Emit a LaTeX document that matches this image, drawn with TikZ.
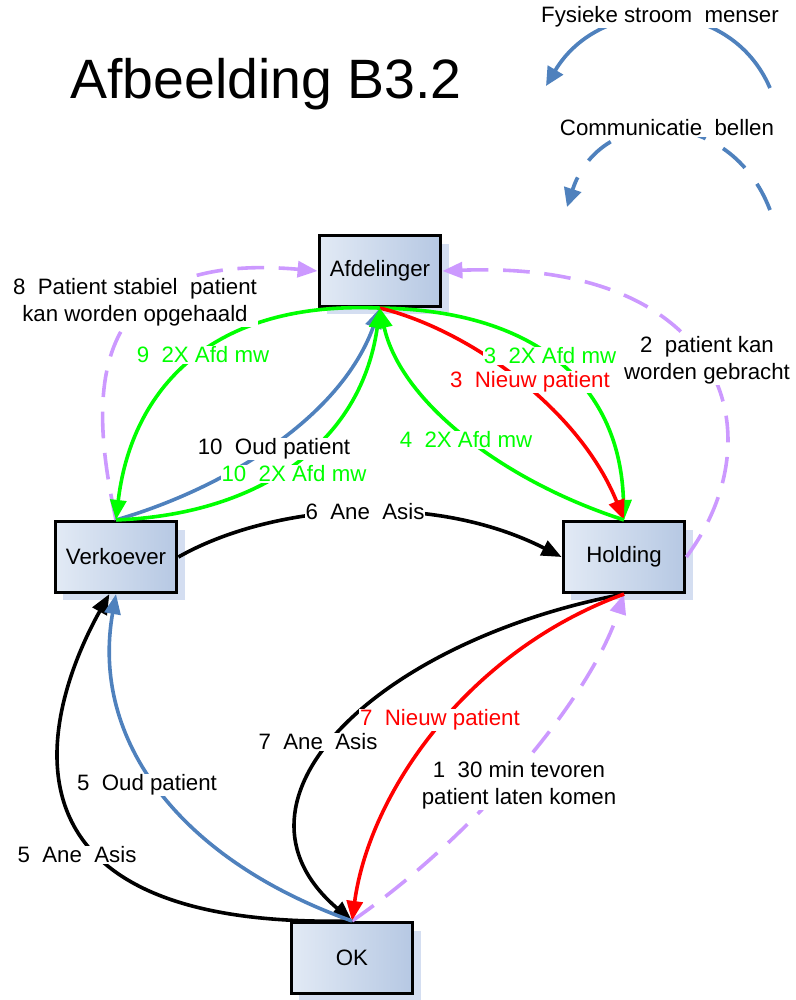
\documentclass[tikz,border=0pt]{standalone}
\usepackage{fontspec}
\setmainfont{Liberation Sans}
\usepackage{tikz}
\usepackage{xcolor}
\usetikzlibrary{shapes, arrows.meta, shadows}

\definecolor{flowblue}{RGB}{79,129,189}
\definecolor{afdgreen}{RGB}{0,255,0}
\definecolor{flowred}{RGB}{255,0,0}
\definecolor{callpurple}{RGB}{204,153,255}
\definecolor{boxlight}{RGB}{226,234,245}
\definecolor{boxdark}{RGB}{182,200,227}
\definecolor{shadowblue}{RGB}{212,222,241}

\tikzset{
  unitbox/.style={draw=black, line width=2.6pt, minimum width=91pt, minimum height=53pt,
    left color=boxlight, right color=boxdark,
    drop shadow={shadow xshift=6pt, shadow yshift=-6pt, fill=shadowblue, opacity=1},
    font=\fontsize{16.7}{20}\selectfont},
  flow/.style={line width=2.7pt, -{Triangle[length=15pt,width=12pt]}},
  call/.style={flow, color=callpurple, dash pattern=on 20pt off 11pt},
  legendline/.style={line width=2.8pt, color=flowblue, -{Triangle[length=14pt,width=13pt]}},
  flowlabel/.style={fill=white, inner sep=0.75pt, align=center, font=\fontsize{16.7}{20}\selectfont},
}

\begin{document}
\begin{tikzpicture}[x=0.75pt,y=0.75pt,yscale=-1,xscale=1]
    \useasboundingbox (0,0) rectangle (796,1000);

    % Title
    \node (titel) at (266,84) {\fontsize{41.6}{50}\selectfont Afbeelding B3.2};

    % Legend
    \coordinate (fysR) at (770,88);
    \coordinate (fysL) at (546,86);
    \coordinate (comR) at (770,210);
    \coordinate (comL) at (567,207);
    \draw [legendline] (fysR) .. controls (730,-5) and (600,-5) .. (fysL);
    \draw [legendline, dash pattern=on 22pt off 15pt] (comR) .. controls (730,105) and (600,105) .. (comL);
    \node [flowlabel] (fyslbl) at (660,17) {Fysieke stroom~ menser};
    \node [flowlabel] (comlbl) at (667,128) {Communicatie~ bellen};

    %Rect
    \node [unitbox] (afd) at (380,271) {Afdelinger};
    \node [unitbox] (verk) at (116,557) {Verkoever};
    \node [unitbox] (hold) at (624,557) {Holding};
    \node [unitbox] (ok) at (352,958) {OK};

    %Dashed Lines (communicatie)
    \draw [call] (verk.north) .. controls (90,400) and (80,250) .. (afd.west);
    \draw [call] (hold.east) .. controls (780,430) and (720,260) .. (afd.east);
    \draw [call] (ok.north) .. controls (470,840) and (590,700) .. (hold.south);

    %Curves Verkoever - Afdelinger
    \draw [flow, color=flowblue] (verk.north) .. controls (220,490) and (340,420) .. (afd.south);
    \draw [flow, color=afdgreen] (afd.south) .. controls (200,300) and (130,400) .. (verk.north);
    \draw [flow, color=afdgreen] (verk.north) .. controls (250,515) and (360,450) .. (afd.south);

    %Curves Afdelinger - Holding
    \draw [flow, color=afdgreen] (afd.south) .. controls (530,310) and (620,380) .. (hold.north);
    \draw [flow, color=flowred] (afd.south) .. controls (470,330) and (580,410) .. (hold.north);
    \draw [flow, color=afdgreen] (hold.north) .. controls (500,480) and (400,400) .. (afd.south);

    %Curve Verkoever - Holding
    \draw [flow, color=black] (verk.east) .. controls (270,505) and (430,490) .. (hold.west);

    %Curves Holding - OK
    \draw [flow, color=black] (hold.south) .. controls (380,640) and (210,800) .. (ok.north);
    \draw [flow, color=flowred] (hold.south) .. controls (470,650) and (370,790) .. (ok.north);

    %Curves OK - Verkoever
    \draw [flow, color=black] (ok.north) .. controls (-30,930) and (50,700) .. ([xshift=-5pt]verk.south);
    \draw [flow, color=flowblue] (ok.north) .. controls (180,860) and (90,740) .. (verk.south);

    % Text Node
    \node [flowlabel] (lbl8) at (135,302) {8~ Patient stabiel~ patient\\kan worden opgehaald};
    \node [flowlabel, text=afdgreen] (lbl9) at (203,355) {9~ 2X Afd mw};
    \node [flowlabel] (lbl10oud) at (274,449) {10~ Oud patient};
    \node [flowlabel, text=afdgreen] (lbl10afd) at (294,474) {10~ 2X Afd mw};
    \node [flowlabel, text=afdgreen] (lbl3afd) at (550,356) {3~ 2X Afd mw};
    \node [flowlabel, text=flowred] (lbl3nieuw) at (530,382) {3~ Nieuw patient};
    \node [flowlabel, text=afdgreen] (lbl4) at (466,440) {4~ 2X Afd mw};
    \node [flowlabel] (lbl2) at (707,360) {2~ patient kan\\worden gebracht};
    \node [flowlabel] (lbl6) at (365,512) {6~ Ane~ Asis};
    \node [flowlabel] (lbl7ane) at (318,742) {7~ Ane~ Asis};
    \node [flowlabel, text=flowred] (lbl7nieuw) at (440,720) {7~ Nieuw patient};
    \node [flowlabel] (lbl5oud) at (147,785) {5~ Oud patient};
    \node [flowlabel] (lbl5ane) at (77,855) {5~ Ane~ Asis};
    \node [flowlabel] (lbl1) at (519,785) {1~ 30 min tevoren\\patient laten komen};
\end{tikzpicture}
\end{document}
